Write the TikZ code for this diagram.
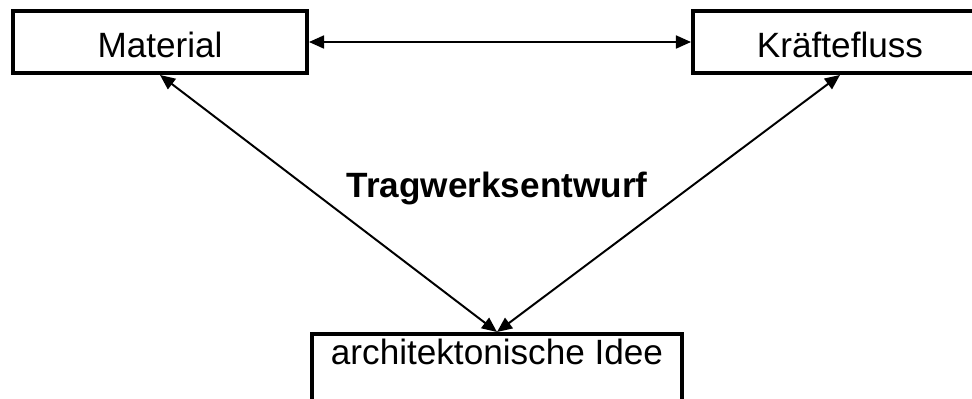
\documentclass[tikz,border=0pt]{standalone}
\usepackage{fontspec}
\setmainfont{Liberation Sans}
\usetikzlibrary{arrows.meta}

\begin{document}
\begin{tikzpicture}[
        every node/.style={font=\fontsize{25}{30}\selectfont},
        kasten/.style={draw, line width=2.8pt, minimum width=7.35cm, minimum height=1.55cm, inner sep=0pt, text height=0.79cm, text depth=0pt},
        pfeil/.style={line width=1.4pt, {Triangle[length=10.7pt,width=9.2pt]}-{Triangle[length=10.7pt,width=9.2pt]}}
    ]
        \useasboundingbox (0,0) rectangle (24.3,-9.95);
        
        % Kaesten
        \node[kasten] (material) at (4.0,-1.05) {Material};
        \node[kasten] (kraft) at (21.0,-1.05) {Kräftefluss};
        % unten: Kasten reicht ueber den Rand hinaus
        \node[kasten, minimum width=9.25cm, minimum height=0pt, text height=0.775cm, text depth=1.5cm, anchor=north] (idee) at (12.425,-8.3) {architektonische Idee};
        
        % Beschriftung Mitte
        \node[font=\fontsize{25}{30}\selectfont\bfseries] (entwurf) at (12.425,-4.7) {Tragwerksentwurf};
        
        % Verbindungen
        \draw[pfeil] (material) -- (kraft);
        \draw[pfeil] (material.south) -- (idee.north);
        \draw[pfeil] (kraft.south) -- (idee.north);
    \end{tikzpicture}
\end{document}
